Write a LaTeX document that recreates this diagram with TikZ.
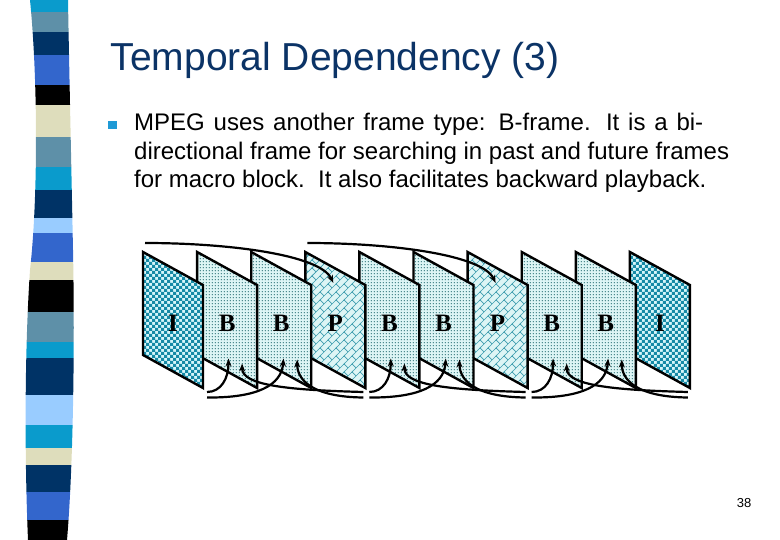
\documentclass[tikz,border=0pt]{standalone}
\usepackage{fontspec}
\setmainfont{Liberation Sans}
\newfontfamily\lblfont{Liberation Serif}
\usetikzlibrary{arrows.meta,patterns}

\definecolor{stcyan}{HTML}{0A9BCC}
\definecolor{ststeel}{HTML}{5E90A8}
\definecolor{stnavy}{HTML}{003366}
\definecolor{stroyal}{HTML}{3366CC}
\definecolor{stbeige}{HTML}{DEDDBC}
\definecolor{stlight}{HTML}{99CCFF}
\definecolor{titlec}{HTML}{0B3366}
\definecolor{bulletc}{HTML}{1F9AD6}
\definecolor{paleb}{HTML}{DDF5F5}
\definecolor{paleI}{HTML}{D6F6FA}
\definecolor{teal1}{HTML}{168AA6}
\definecolor{dotc}{HTML}{3F7F84}
\definecolor{brickc}{HTML}{3C9CAE}

\pgfdeclarepatternformonly{mydots}{\pgfpointorigin}{\pgfpoint{2.8pt}{2.8pt}}{\pgfpoint{2.8pt}{2.8pt}}{%
  \pgfpathcircle{\pgfpoint{1.4pt}{1.4pt}}{0.7pt}%
  \pgfusepath{fill}}
\pgfdeclarepatternformonly{mybricks}{\pgfpoint{-1pt}{-1pt}}{\pgfpoint{9pt}{9pt}}{\pgfpoint{8pt}{8pt}}{%
  \pgfsetlinewidth{0.7pt}%
  \pgfpathmoveto{\pgfpoint{-1pt}{-1pt}}\pgfpathlineto{\pgfpoint{9pt}{9pt}}%
  \pgfpathmoveto{\pgfpoint{4pt}{4pt}}\pgfpathlineto{\pgfpoint{0pt}{8pt}}%
  \pgfusepath{stroke}}

\newcommand\myframe[3]{%
  \pgfmathsetmacro\fx{143+54.1*#1}%
  \draw[#2] (\fx,252) -- ({\fx+60},285) -- ({\fx+60},388) -- (\fx,355) -- cycle;
  \node[lbl] (lab#1) at ({\fx+30},332) {#3};}

\newcommand\myIframe[1]{%
  \pgfmathsetmacro\fx{143+54.1*#1}%
  \begin{scope}
    \clip (\fx,252) -- ({\fx+60},285) -- ({\fx+60},388) -- (\fx,355) -- cycle;
    \fill[paleI] (\fx,250) rectangle ({\fx+62},390);
    \fill[teal1] foreach \r in {0,...,23}{ foreach \c in {0,...,10}{
        ({\fx+6*\c},{250+6*\r}) rectangle ++(3,3)
        ({\fx+6*\c+3},{253+6*\r}) rectangle ++(3,3) } };
  \end{scope}
  \draw[frameline] (\fx,252) -- ({\fx+60},285) -- ({\fx+60},388) -- (\fx,355) -- cycle;
  \node[lbl] (lab#1) at ({\fx+30},332) {I};}

\begin{document}
\begin{tikzpicture}[x=1pt,y=-1pt,
  frameline/.style={line width=2.4pt,line join=miter},
  frameB/.style={frameline,preaction={fill=paleb},pattern=mydots,pattern color=dotc},
  frameP/.style={frameline,preaction={fill=paleb},pattern=mybricks,pattern color=brickc},
  lbl/.style={font=\lblfont\bfseries\fontsize{25}{25}\selectfont,inner sep=0pt,anchor=base},
  arc/.style={line width=2.2pt,-{Stealth[length=8pt,width=6pt]}},
  body/.style={anchor=base west,inner sep=0pt,font=\fontsize{24}{24}\selectfont}]
\useasboundingbox (0,0) rectangle (780,540);

% decorative stripe band
\begin{scope}
\clip (30,0) .. controls (38,80) and (38,200) .. (30,270) .. controls (24,360) and (25,470) .. (28,540)
  -- (67,540) .. controls (73,470) and (75,350) .. (73,250) .. controls (71,150) and (69,60) .. (68,0) -- cycle;
\foreach \a/\b/\c in {0/12/stcyan,12/32/ststeel,32/55/stnavy,55/85/stroyal,85/105/black,105/137/stbeige,
  137/167/ststeel,167/190/stcyan,190/218/stnavy,218/233/stlight,233/262/stroyal,262/280/stbeige,
  280/312/black,312/342/ststeel,342/358/stcyan,358/395/stnavy,395/425/stlight,425/448/stcyan,
  448/465/stbeige,465/492/stnavy,492/520/stroyal,520/541/black}
  \fill[\c] (15,\a) rectangle (85,\b);
\end{scope}

% title and text
\node[anchor=base west,inner sep=0pt,text=titlec,font=\fontsize{39}{39}\selectfont] (title) at (110.5,71) {Temporal Dependency (3)};
\node[fill=bulletc,minimum width=9pt,minimum height=8.5pt,inner sep=0pt] (bul) at (112.5,125.2) {};
\node[body] (l1) at (134,131) {\makebox[569pt][s]{MPEG uses another frame type: B-frame. It is a bi-}};
\node[body] (l2) at (134,159.3) {directional frame for searching in past and future frames};
\node[body] (l3) at (134,187.5) {for macro block.\ \ It also facilitates backward playback.};
\node[inner sep=0pt,font=\fontsize{13}{13}\selectfont] (pg) at (744,503) {38};

% frames, right to left so that left ones are in front
\myIframe{9}
\myframe{8}{frameB}{B}
\myframe{7}{frameB}{B}
\myframe{6}{frameP}{P}
\myframe{5}{frameB}{B}
\myframe{4}{frameB}{B}
\myframe{3}{frameP}{P}
\myframe{2}{frameB}{B}
\myframe{1}{frameB}{B}
\myIframe{0}

% forward prediction arcs on top
\foreach \k/\s in {0/0,1/3}{
  \pgfmathsetmacro\sx{143+54.1*\s+2}
  \pgfmathsetmacro\tx{143+54.1*(\s+3)+28}
  \coordinate (ts\k) at (\sx,243);
  \coordinate (tt\k) at (\tx,283);
  \draw[arc] (ts\k) .. controls +(85,0) and +(-13,-28) .. (tt\k);
}

% bidirectional arrows below
\foreach \g in {0,1,2}{
  \pgfmathsetmacro\Lx{143+162.3*\g+64}
  \pgfmathsetmacro\Rx{143+162.3*(\g+1)+58}
  \pgfmathsetmacro\ax{143+162.3*\g+54.1}
  \pgfmathsetmacro\bx{143+162.3*\g+108.2}
  \coordinate (La\g) at (\Lx,392);
  \coordinate (Lb\g) at (\Lx,397.5);
  \coordinate (Ra\g) at (\Rx,392);
  \coordinate (Rb\g) at (\Rx,397.5);
  \coordinate (pa\g) at ({\ax+31.4},358.5);
  \coordinate (qa\g) at ({\ax+45},363.5);
  \coordinate (pb\g) at ({\bx+32.3},358.5);
  \coordinate (qb\g) at ({\bx+46},359.5);
  \draw[arc] (La\g) .. controls +(14,0) and +(0,20) .. (pa\g);
  \draw[arc] (Lb\g) .. controls +(50,0.5) and +(-2,27) .. (pb\g);
  \draw[arc] (Ra\g) .. controls +(-75,-2) and +(0,22) .. (qa\g);
  \draw[arc] (Rb\g) .. controls +(-50,-0.5) and +(0,21) .. (qb\g);
}
\end{tikzpicture}
\end{document}
